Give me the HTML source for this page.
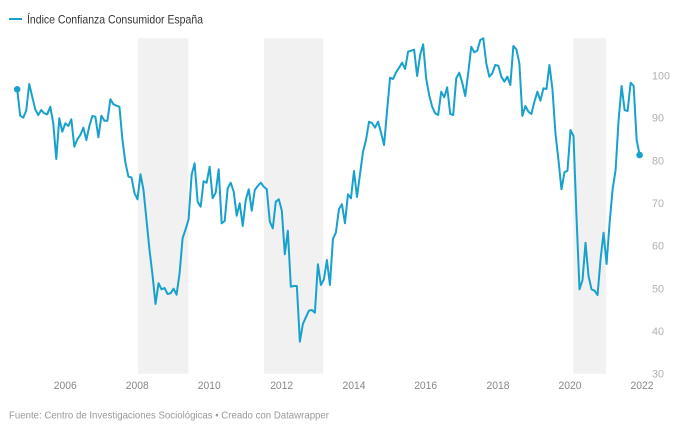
<!DOCTYPE html>
<html>
<head>
<meta charset="utf-8">
<style>
  html,body{margin:0;padding:0;background:#fff;}
  body{width:680px;height:430px;overflow:hidden;}
  svg{display:block;font-family:"Liberation Sans","DejaVu Sans",sans-serif;}
</style>
</head>
<body>
<svg width="680" height="430" viewBox="0 0 680 430" xmlns="http://www.w3.org/2000/svg">
  <!-- legend -->
  <line x1="9" y1="19" x2="22" y2="19" stroke="#18a1cd" stroke-width="2"/>
  <text x="27" y="23.3" font-size="12" fill="#333" textLength="176" lengthAdjust="spacingAndGlyphs">Índice Confianza Consumidor España</text>

  <!-- recession bands -->
  <rect x="138" y="38.3" width="50.3" height="335.4" fill="#f1f1f1"/>
  <rect x="264" y="38.3" width="59.3" height="335.4" fill="#f1f1f1"/>
  <rect x="573.3" y="38.3" width="32.7" height="335.4" fill="#f1f1f1"/>

  <!-- y labels -->
  <g font-size="11" fill="#b0b0b0">
    <text x="652" y="79.3" textLength="18" lengthAdjust="spacingAndGlyphs">100</text>
    <text x="652" y="121.7" textLength="12" lengthAdjust="spacingAndGlyphs">90</text>
    <text x="652" y="164.3" textLength="12" lengthAdjust="spacingAndGlyphs">80</text>
    <text x="652" y="207" textLength="12" lengthAdjust="spacingAndGlyphs">70</text>
    <text x="652" y="249.7" textLength="12" lengthAdjust="spacingAndGlyphs">60</text>
    <text x="652" y="292.3" textLength="12" lengthAdjust="spacingAndGlyphs">50</text>
    <text x="652" y="335" textLength="12" lengthAdjust="spacingAndGlyphs">40</text>
    <text x="652" y="377.7" textLength="12" lengthAdjust="spacingAndGlyphs">30</text>
  </g>

  <!-- x labels -->
  <g font-size="11" fill="#888" text-anchor="middle">
    <text x="65.3" y="389" textLength="23" lengthAdjust="spacingAndGlyphs">2006</text>
    <text x="137.3" y="389" textLength="23" lengthAdjust="spacingAndGlyphs">2008</text>
    <text x="209.3" y="389" textLength="23" lengthAdjust="spacingAndGlyphs">2010</text>
    <text x="281.7" y="389" textLength="23" lengthAdjust="spacingAndGlyphs">2012</text>
    <text x="354" y="389" textLength="23" lengthAdjust="spacingAndGlyphs">2014</text>
    <text x="425.7" y="389" textLength="23" lengthAdjust="spacingAndGlyphs">2016</text>
    <text x="498" y="389" textLength="23" lengthAdjust="spacingAndGlyphs">2018</text>
    <text x="570" y="389" textLength="23" lengthAdjust="spacingAndGlyphs">2020</text>
    <text x="642" y="389" textLength="23" lengthAdjust="spacingAndGlyphs">2022</text>
  </g>

  <!-- series -->
  <g transform="translate(17.2,0) scale(3.007,1)">
    <polyline fill="none" stroke="#18a1cd" stroke-width="2" stroke-linejoin="round" stroke-linecap="round" vector-effect="non-scaling-stroke"
      points="0,89.3 1,115.7 2,117.7 3,110.7 4,84 5,96.7 6,109.3 7,115 8,110 9,113.3 10,114.3 11,106.7 12,123.3 13,159 14,118.3 15,131.7 16,123.3 17,126 18,119.3 19,146.7 20,139.3 21,135 22,127.7 23,140 24,126 25,116 26,116.7 27,137.3 28,115.7 29,120.7 30,120.7 31,99.3 32,104.3 33,105.7 34,106.7 35,140 36,163 37,176.7 38,177.3 39,193 40,199.3 41,174.3 42,190 43,220 44,250 45,275 46,304 47,283.3 48,289.3 49,288 50,294 51,293.3 52,288.7 53,294.7 54,273.3 55,238.3 56,229.3 57,219.3 58,175 59,163.3 60,201.7 61,206.7 62,181.3 63,182.7 64,166.7 65,198.3 66,192.7 67,169.3 68,223.3 69,221 70,188.3 71,182.7 72,191.7 73,215.7 74,203.3 75,226 76,200 77,189.3 78,210.7 79,190 80,186 81,182.7 82,186.7 83,189.3 84,221.7 85,228.3 86,201.7 87,199.3 88,210.7 89,254.3 90,230.7 91,286.7 92,286 93,286 94,341.7 95,324 96,317.3 97,310.7 98,310 99,312.7 100,264.3 101,285 102,279.3 103,260 104,285 105,239 106,232.3 107,209 108,204.3 109,223.3 110,194.3 111,198.3 112,171 113,197 114,174.3 115,151.7 116,140 117,121.7 118,123 119,127.7 120,121.7 121,132.7 122,145 123,111 124,77.7 125,79 126,72.3 127,67.7 128,62.7 129,69 130,51.7 131,50.7 132,49.7 133,76 134,55 135,44.3 136,78.3 137,95 138,106.7 139,113.3 140,115 141,91.7 142,97.3 143,87.3 144,114 145,115 146,78.3 147,72.7 148,82.7 149,96 150,72.7 151,46.7 152,52.3 153,50.7 154,40 155,38.3 156,63.3 157,76.7 158,73.3 159,65 160,65.7 161,76.7 162,81.7 163,76.7 164,85 165,46 166,49.3 167,63.3 168,116 169,106 170,111.7 171,114 172,101.7 173,91.7 174,100.7 175,88.3 176,89 177,65 178,89.3 179,133.3 180,160 181,189.3 182,172.3 183,170.7 184,130 185,136 186,216.7 187,289.3 188,280 189,242.7 190,276 191,289.3 192,290.7 193,295 194,259.3 195,232.7 196,264 197,223.3 198,189.3 199,170 200,120 201,86 202,110 203,111 204,82.7 205,86 206,140 207,155"/>
  </g>
  <circle cx="17.2" cy="89.3" r="3.3" fill="#18a1cd"/>
  <circle cx="639.6" cy="155" r="3.3" fill="#18a1cd"/>

  <!-- footer -->
  <text x="9" y="418.5" font-size="10" fill="#999" textLength="320" lengthAdjust="spacingAndGlyphs">Fuente: Centro de Investigaciones Sociológicas • Creado con Datawrapper</text>
</svg>
</body>
</html>
